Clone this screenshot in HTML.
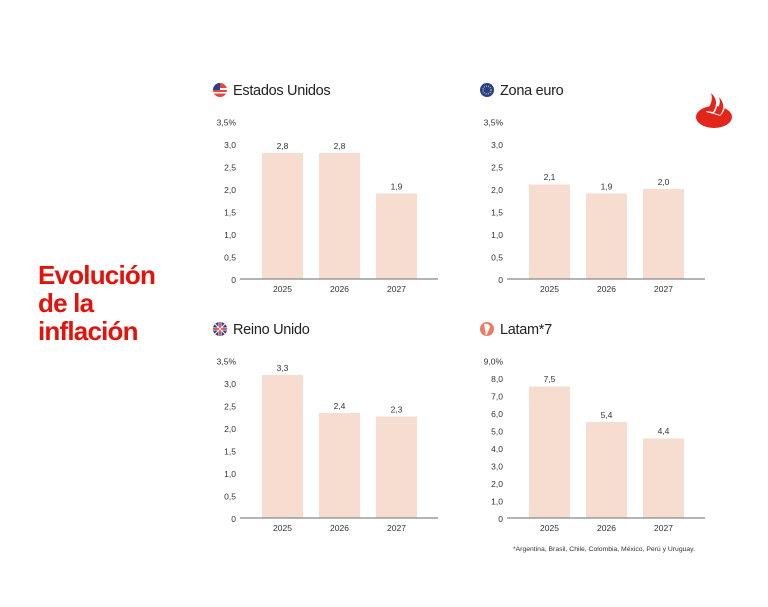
<!DOCTYPE html>
<html><head><meta charset="utf-8"><style>
body{margin:0;background:#fff;width:768px;height:607px;overflow:hidden}
svg{display:block;font-family:"Liberation Sans",sans-serif}
.t{font-size:8.5px;fill:#333}
.h{font-size:14.5px;fill:#222;letter-spacing:-0.3px}
.b{fill:#f6ddd0}
.ax{stroke:#888;stroke-width:1.3}
.ti{font-size:26px;font-weight:bold;fill:#e3120b;letter-spacing:-0.8px}
</style></head><body>
<svg width="768" height="607" viewBox="0 0 768 607">
<text x="38" y="284" class="ti">Evolución</text>
<text x="38" y="312" class="ti">de la</text>
<text x="38" y="340" class="ti">inflación</text>
<!-- logo -->
<ellipse cx="714" cy="117" rx="18" ry="11" fill="#e3261b"/>
<path d="M706 112 Q716 100 712 92 Q722 100 714 114 Z M714 114 Q724 104 720 96 Q730 106 720 116 Z" fill="#fff"/>
<path d="M706 111 Q714 102 711 93 Q720 101 713 112 Z M714 113 Q722 105 719 97 Q727 106 720 115 Z" fill="#e3261b"/>

<!-- US -->
<circle cx="220" cy="90" r="7" fill="#e8443a"/><rect x="213" y="88" width="14" height="2" fill="#fff"/><rect x="213" y="92" width="14" height="1.5" fill="#fff"/><path d="M213 90 A7 7 0 0 1 220 83 L220 90Z" fill="#2a3f8f"/>
<text x="233" y="95" class="h">Estados Unidos</text>
<g class="t" text-anchor="end"><text x="236" y="283">0</text><text x="236" y="260.5">0,5</text><text x="236" y="238">1,0</text><text x="236" y="215.5">1,5</text><text x="236" y="193">2,0</text><text x="236" y="170.5">2,5</text><text x="236" y="148">3,0</text><text x="236" y="125.5">3,5%</text></g>
<rect class="b" x="262" y="153" width="41" height="126"/><rect class="b" x="319" y="153" width="41" height="126"/><rect class="b" x="376" y="193.5" width="41" height="85.5"/>
<line class="ax" x1="240" y1="279" x2="438" y2="279"/>
<g class="t" text-anchor="middle"><text x="282.5" y="149">2,8</text><text x="339.5" y="149">2,8</text><text x="396.5" y="189.5">1,9</text><text x="282.5" y="292">2025</text><text x="339.5" y="292">2026</text><text x="396.5" y="292">2027</text></g>

<!-- Euro -->
<circle cx="487" cy="90" r="7" fill="#1f3f9a"/><circle cx="487" cy="90" r="4" fill="none" stroke="#f5c400" stroke-width="1.3" stroke-dasharray="1 1.2"/>
<text x="500" y="95" class="h">Zona euro</text>
<g class="t" text-anchor="end"><text x="503" y="283">0</text><text x="503" y="260.5">0,5</text><text x="503" y="238">1,0</text><text x="503" y="215.5">1,5</text><text x="503" y="193">2,0</text><text x="503" y="170.5">2,5</text><text x="503" y="148">3,0</text><text x="503" y="125.5">3,5%</text></g>
<rect class="b" x="529" y="184.5" width="41" height="94.5"/><rect class="b" x="586" y="193.5" width="41" height="85.5"/><rect class="b" x="643" y="189" width="41" height="90"/>
<line class="ax" x1="507" y1="279" x2="705" y2="279"/>
<g class="t" text-anchor="middle"><text x="549.5" y="180">2,1</text><text x="606.5" y="189.5">1,9</text><text x="663.5" y="185">2,0</text><text x="549.5" y="292">2025</text><text x="606.5" y="292">2026</text><text x="663.5" y="292">2027</text></g>

<!-- UK -->
<circle cx="220" cy="329" r="7" fill="#2a3f8f"/><path d="M213 329 H227 M220 322 V336" stroke="#fff" stroke-width="3"/><path d="M213 329 H227 M220 322 V336" stroke="#d22" stroke-width="1.5"/><path d="M215 324 L225 334 M225 324 L215 334" stroke="#fff" stroke-width="1"/>
<text x="233" y="334" class="h">Reino Unido</text>
<g class="t" text-anchor="end"><text x="236" y="522">0</text><text x="236" y="499.5">0,5</text><text x="236" y="477">1,0</text><text x="236" y="454.5">1,5</text><text x="236" y="432">2,0</text><text x="236" y="409.5">2,5</text><text x="236" y="387">3,0</text><text x="236" y="364.5">3,5%</text></g>
<rect class="b" x="262" y="375" width="41" height="143"/><rect class="b" x="319" y="413" width="41" height="105"/><rect class="b" x="376" y="416.5" width="41" height="101.5"/>
<line class="ax" x1="240" y1="518" x2="438" y2="518"/>
<g class="t" text-anchor="middle"><text x="282.5" y="371">3,3</text><text x="339.5" y="409">2,4</text><text x="396.5" y="412.5">2,3</text><text x="282.5" y="531">2025</text><text x="339.5" y="531">2026</text><text x="396.5" y="531">2027</text></g>

<!-- Latam -->
<circle cx="487" cy="329" r="7" fill="#ee7b5f"/><path d="M484 324 Q489 323 490 327 L488 332 L486 336 L485 330 Z" fill="#fff"/>
<text x="500" y="334" class="h">Latam*7</text>
<g class="t" text-anchor="end"><text x="503" y="522">0</text><text x="503" y="504.5">1,0</text><text x="503" y="487">2,0</text><text x="503" y="469.5">3,0</text><text x="503" y="452">4,0</text><text x="503" y="434.5">5,0</text><text x="503" y="417">6,0</text><text x="503" y="399.5">7,0</text><text x="503" y="382">8,0</text><text x="503" y="364.5">9,0%</text></g>
<rect class="b" x="529" y="386.5" width="41" height="131.5"/><rect class="b" x="586" y="422" width="41" height="96"/><rect class="b" x="643" y="438.5" width="41" height="79.5"/>
<line class="ax" x1="507" y1="518" x2="705" y2="518"/>
<g class="t" text-anchor="middle"><text x="549.5" y="382">7,5</text><text x="606.5" y="418">5,4</text><text x="663.5" y="434">4,4</text><text x="549.5" y="531">2025</text><text x="606.5" y="531">2026</text><text x="663.5" y="531">2027</text></g>
<text x="513" y="551" font-size="6.8" fill="#333">*Argentina, Brasil, Chile, Colombia, México, Perú y Uruguay.</text>
</svg>
</body></html>
